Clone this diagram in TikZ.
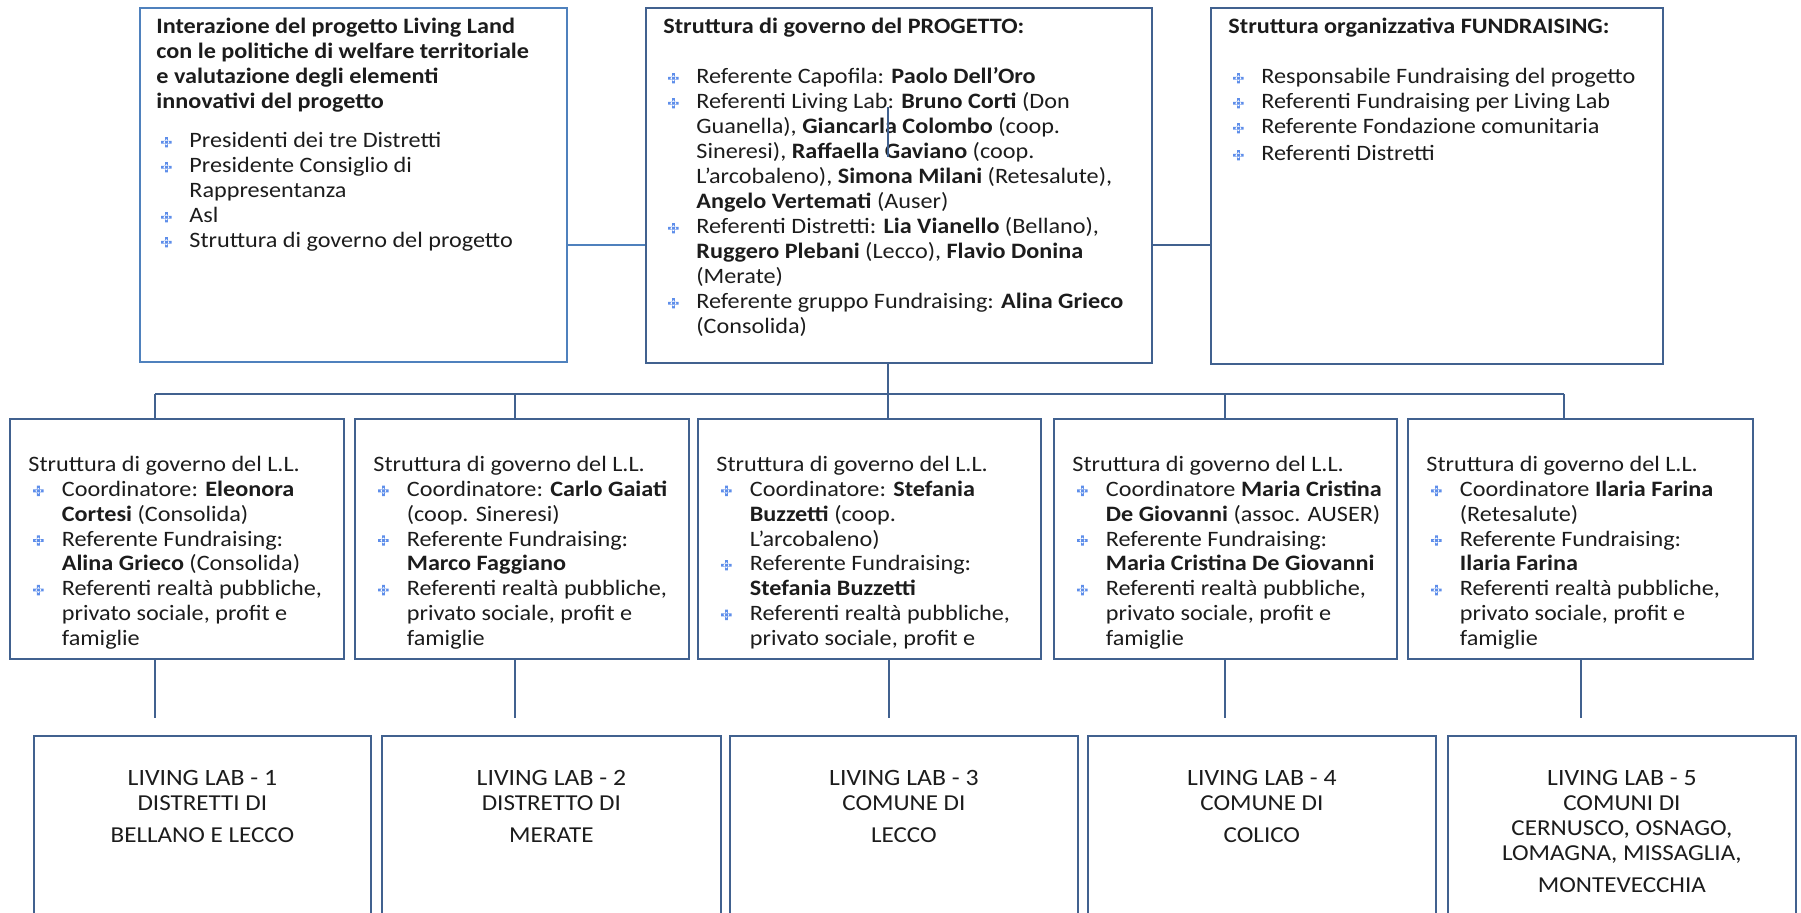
\documentclass[tikz,border=0pt]{standalone}
\usepackage{fontspec}
\setmainfont{Carlito}[FakeStretch=1.1]
\usepackage{xcolor}
\usepackage{tikz}
\usetikzlibrary{positioning, calc}
\definecolor{ink}{HTML}{1C1C1C}
\definecolor{frame}{HTML}{41618F}
\definecolor{framehl}{HTML}{4F81BD}
\definecolor{bullet}{HTML}{5E8EEA}
\tikzset{
  panel/.style   = {draw=frame, line width=0.9pt, rectangle, inner sep=0pt, anchor=north west},
  panelhl/.style = {panel, draw=framehl},
  link/.style    = {draw=frame, line width=0.9pt},
  linkhl/.style  = {link, draw=framehl},
  body/.style    = {align=left, inner sep=0pt, text=ink, font=\fontsize{11}{12.5}\selectfont},
  bodyll/.style  = {body, font=\fontsize{11}{12.4}\selectfont},
  labtxt/.style  = {align=center, inner sep=0pt, text=ink, font=\fontsize{11.4}{12.5}\selectfont},
}
\newcommand\bul{\tikz[baseline=-2.8pt]{\fill[bullet] (-2.6pt,-0.7pt) rectangle (2.6pt,0.7pt)
  (-0.7pt,-2.6pt) rectangle (0.7pt,2.6pt) (0pt,-1.6pt) -- (1.6pt,0pt) -- (0pt,1.6pt) -- (-1.6pt,0pt) -- cycle;}}
\newcommand\bi[1][16.5pt]{\makebox[#1][l]{\hspace*{2.4pt}\bul}}
\newcommand\ci[1][16.5pt]{\hspace*{#1}}
\newcommand\lltitle[1]{{\fontsize{11.7}{14}\selectfont #1}}

\begin{document}
\begin{tikzpicture}[x=0.5pt, y=-0.5pt]
  \useasboundingbox (0,0) rectangle (1801,912);
  \clip (0,0) rectangle (1801,912);

  % top row
  \node[panelhl, minimum width=213.5pt, minimum height=177pt] (welf) at (139,7) {};
  \node[panel, minimum width=253pt, minimum height=177.5pt] (prog) at (645,7) {};
  \node[panel, minimum width=226pt, minimum height=178pt] (fund) at (1210,7) {};

  \node[body, below right=5.5pt and 8.5pt of welf.north west] (welf-t)
    {\textbf{Interazione del progetto Living Land}\\
     \textbf{con le politiche di welfare territoriale}\\
     \textbf{e valutazione degli elementi}\\
     \textbf{innovativi del progetto}\\[7pt]
     \bi Presidenti dei tre Distretti\\
     \bi Presidente Consiglio di\\
     \ci Rappresentanza\\
     \bi Asl\\
     \bi Struttura di governo del progetto};
  \node[body, below right=5.5pt and 9pt of prog.north west] (prog-t)
    {\textbf{Struttura di governo del PROGETTO:}\\[12.5pt]
     \bi Referente Capofila: \textbf{Paolo Dell'Oro}\\
     \bi Referenti Living Lab: \textbf{Bruno Corti} (Don\\
     \ci Guanella), \textbf{Giancarla Colombo} (coop.\\
     \ci Sineresi), \textbf{Raffaella Gaviano} (coop.\\
     \ci L'arcobaleno), \textbf{Simona Milani} (Retesalute),\\
     \ci \textbf{Angelo Vertemati} (Auser)\\
     \bi Referenti Distretti: \textbf{Lia Vianello} (Bellano),\\
     \ci \textbf{Ruggero Plebani} (Lecco), \textbf{Flavio Donina}\\
     \ci (Merate)\\
     \bi Referente gruppo Fundraising: \textbf{Alina Grieco}\\
     \ci (Consolida)};
  \node[body, below right=5.5pt and 9pt of fund.north west] (fund-t)
    {\textbf{Struttura organizzativa FUNDRAISING:}\\[12.5pt]
     \bi Responsabile Fundraising del progetto\\
     \bi Referenti Fundraising per Living Lab\\
     \bi Referente Fondazione comunitaria\\[1pt]
     \bi Referenti Distretti};

  \coordinate (jl) at (600,245);
  \coordinate (bus) at (888,394);
  \draw[linkhl] (welf.east |- jl) -- (prog.west |- jl);
  \draw[link] (prog.east |- jl) -- (fund.west |- jl);
  \draw[link] (888,107) -- (888,157);
  \draw[link] (prog.south -| bus) -- (bus);

  % Living Lab governance
  \foreach \i/\x/\w in {1/9/167, 2/354/167, 3/697/171.5, 4/1053/171.5, 5/1407/172.5}
    \node[panel, minimum width=\w pt, minimum height=120pt] (gll\i) at (\x,418) {};

  \node[bodyll, below right=19pt and 9.5pt of gll1.north west] (gll1-t)
    {Struttura di governo del L.L.\\
     \bi[14pt] Coordinatore: \textbf{Eleonora}\\
     \ci[14pt] \textbf{Cortesi} (Consolida)\\
     \bi[14pt] Referente Fundraising:\\
     \ci[14pt] \textbf{Alina Grieco} (Consolida)\\
     \bi[14pt] Referenti realtà pubbliche,\\
     \ci[14pt] privato sociale, profit e\\
     \ci[14pt] famiglie};
  \node[bodyll, below right=19pt and 9.5pt of gll2.north west] (gll2-t)
    {Struttura di governo del L.L.\\
     \bi[14pt] Coordinatore: \textbf{Carlo Gaiati}\\
     \ci[14pt] (coop. Sineresi)\\
     \bi[14pt] Referente Fundraising:\\
     \ci[14pt] \textbf{Marco Faggiano}\\
     \bi[14pt] Referenti realtà pubbliche,\\
     \ci[14pt] privato sociale, profit e\\
     \ci[14pt] famiglie};
  \node[bodyll, below right=19pt and 9.5pt of gll3.north west] (gll3-t)
    {Struttura di governo del L.L.\\
     \bi[14pt] Coordinatore: \textbf{Stefania}\\
     \ci[14pt] \textbf{Buzzetti} (coop.\\
     \ci[14pt] L'arcobaleno)\\
     \bi[14pt] Referente Fundraising:\\
     \ci[14pt] \textbf{Stefania Buzzetti}\\
     \bi[14pt] Referenti realtà pubbliche,\\
     \ci[14pt] privato sociale, profit e};
  \node[bodyll, below right=19pt and 9.5pt of gll4.north west] (gll4-t)
    {Struttura di governo del L.L.\\
     \bi[14pt] Coordinatore \textbf{Maria Cristina}\\
     \ci[14pt] \textbf{De Giovanni} (assoc. AUSER)\\
     \bi[14pt] Referente Fundraising:\\
     \ci[14pt] \textbf{Maria Cristina De Giovanni}\\
     \bi[14pt] Referenti realtà pubbliche,\\
     \ci[14pt] privato sociale, profit e\\
     \ci[14pt] famiglie};
  \node[bodyll, below right=19pt and 9.5pt of gll5.north west] (gll5-t)
    {Struttura di governo del L.L.\\
     \bi[14pt] Coordinatore \textbf{Ilaria Farina}\\
     \ci[14pt] (Retesalute)\\
     \bi[14pt] Referente Fundraising:\\
     \ci[14pt] \textbf{Ilaria Farina}\\
     \bi[14pt] Referenti realtà pubbliche,\\
     \ci[14pt] privato sociale, profit e\\
     \ci[14pt] famiglie};

  % drops to the L.L. boxes and on to the Living Labs
  \foreach \i/\x/\y in {1/155/155, 2/515/515, 3/888/889, 4/1225/1225, 5/1564/1581} {
    \coordinate (d\i) at (\x,394);
    \coordinate (e\i) at (\y,718);
    \draw[link] (d\i) -- (d\i |- gll\i.north);
    \draw[link] (gll\i.south -| e\i) -- (e\i);
  }
  \draw[link] (d1) -- (d5);

  % Living Labs
  \foreach \i/\x/\w in {1/33/168.5, 2/381/169.5, 3/729/174, 4/1087/174, 5/1447/174}
    \node[panel, minimum width=\w pt, minimum height=100pt] (lab\i) at (\x,735) {};

  \node[labtxt, below=17.5pt of lab1.north] (lab1-t)
    {\lltitle{LIVING LAB - 1}\\ DISTRETTI DI\\[3.5pt] BELLANO E LECCO};
  \node[labtxt, below=17.5pt of lab2.north] (lab2-t)
    {\lltitle{LIVING LAB - 2}\\ DISTRETTO DI\\[3.5pt] MERATE};
  \node[labtxt, below=17.5pt of lab3.north] (lab3-t)
    {\lltitle{LIVING LAB - 3}\\ COMUNE DI\\[3.5pt] LECCO};
  \node[labtxt, below=17.5pt of lab4.north] (lab4-t)
    {\lltitle{LIVING LAB - 4}\\ COMUNE DI\\[3.5pt] COLICO};
  \node[labtxt, below=17.5pt of lab5.north] (lab5-t)
    {\lltitle{LIVING LAB - 5}\\ COMUNI DI\\ CERNUSCO, OSNAGO,\\ LOMAGNA, MISSAGLIA,\\[3.5pt] MONTEVECCHIA};
\end{tikzpicture}
\end{document}
